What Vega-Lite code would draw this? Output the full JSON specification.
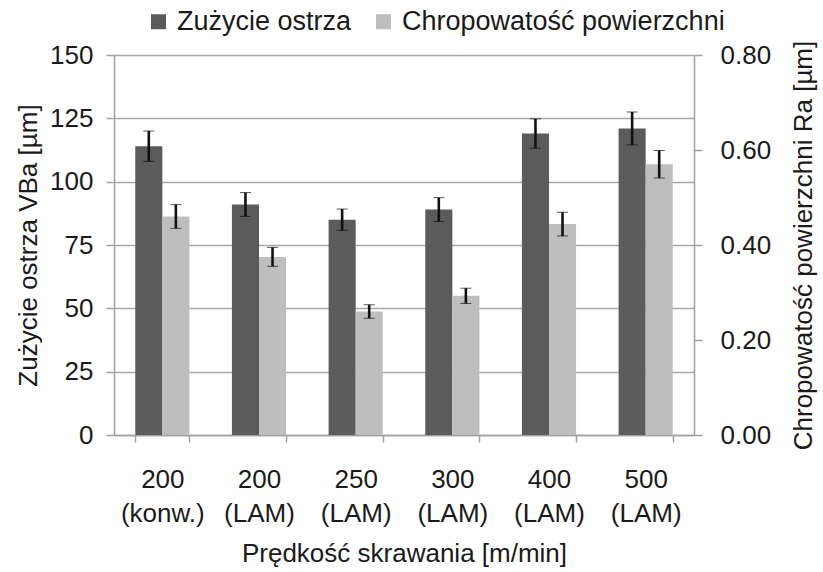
{
  "$schema": "https://vega.github.io/schema/vega-lite/v6.json",
  "autosize": "none",
  "width": 580,
  "height": 380,
  "padding": {"left": 114, "top": 55, "right": 129, "bottom": 137},
  "background": "white",
  "config": {
    "font": "Liberation Sans",
    "view": {"stroke": null},
    "axis": {"labelFont": "Liberation Sans", "titleFont": "Liberation Sans", "labelColor": "#1a1a1a", "titleColor": "#1a1a1a", "titleFontWeight": "normal", "labelFontSize": 26, "titleFontSize": 26, "domainColor": "#a0a0a0", "tickColor": "#a0a0a0", "domainWidth": 1.5, "tickWidth": 1.5}
  },
  "data": {
    "values": [
      {"cat": "200 (konw.)", "series": "Zużycie ostrza", "value": 114, "err": 6},
      {"cat": "200 (LAM)", "series": "Zużycie ostrza", "value": 91, "err": 4.7},
      {"cat": "250 (LAM)", "series": "Zużycie ostrza", "value": 85, "err": 4.2},
      {"cat": "300 (LAM)", "series": "Zużycie ostrza", "value": 89, "err": 4.7},
      {"cat": "400 (LAM)", "series": "Zużycie ostrza", "value": 119, "err": 5.8},
      {"cat": "500 (LAM)", "series": "Zużycie ostrza", "value": 121, "err": 6.5},
      {"cat": "200 (konw.)", "series": "Chropowatość powierzchni", "value": 0.46, "err": 0.025},
      {"cat": "200 (LAM)", "series": "Chropowatość powierzchni", "value": 0.375, "err": 0.02},
      {"cat": "250 (LAM)", "series": "Chropowatość powierzchni", "value": 0.26, "err": 0.014},
      {"cat": "300 (LAM)", "series": "Chropowatość powierzchni", "value": 0.293, "err": 0.016},
      {"cat": "400 (LAM)", "series": "Chropowatość powierzchni", "value": 0.444, "err": 0.025},
      {"cat": "500 (LAM)", "series": "Chropowatość powierzchni", "value": 0.57, "err": 0.029}
    ]
  },
  "encoding": {
    "x": {
      "field": "cat", "type": "nominal", "sort": null,
      "scale": {"paddingInner": 0.44, "paddingOuter": 0.22},
      "axis": {"title": "Prędkość skrawania [m/min]", "labelAngle": 0, "labelExpr": "split(datum.label, ' ')", "labelLineHeight": 34, "labelPadding": 24, "tickBand": "extent", "tickSize": 7, "titlePadding": 14, "domain": true}
    },
    "xOffset": {"field": "series", "type": "nominal", "scale": {"domain": ["Zużycie ostrza", "Chropowatość powierzchni"]}}
  },
  "layer": [
    {
      "transform": [{"filter": "datum.series == 'Zużycie ostrza'"}],
      "encoding": {
        "y": {"field": "value", "type": "quantitative", "scale": {"domain": [0, 150]},
          "axis": {"orient": "left", "title": "Zużycie ostrza VBa [µm]", "values": [0, 25, 50, 75, 100, 125, 150], "grid": true, "gridColor": "#a8a8a8", "gridWidth": 1.5, "tickSize": 8, "labelPadding": 13, "titlePadding": 8}}
      },
      "layer": [
        {"mark": {"type": "bar"},
         "encoding": {"color": {"field": "series", "type": "nominal", "scale": {"domain": ["Zużycie ostrza", "Chropowatość powierzchni"], "range": ["#5b5b5b", "#bebebe"]},
           "legend": {"title": null, "orient": "none", "direction": "horizontal", "legendX": 31, "legendY": -47, "symbolType": "square", "symbolSize": 225, "symbolStrokeWidth": 0, "labelFontSize": 27, "labelFont": "Liberation Sans", "labelColor": "#1a1a1a", "labelLimit": 0, "columnPadding": 18, "labelOffset": 5}}}},
        {"mark": {"type": "errorbar", "ticks": {"size": 11, "color": "#111111", "strokeWidth": 2.6}, "rule": {"color": "#111111", "strokeWidth": 2.6}},
         "encoding": {"yError": {"field": "err"}}}
      ]
    },
    {
      "transform": [{"filter": "datum.series == 'Chropowatość powierzchni'"}],
      "encoding": {
        "y": {"field": "value", "type": "quantitative", "scale": {"domain": [0, 0.8]},
          "axis": {"orient": "right", "title": "Chropowatość powierzchni Ra [µm]", "titleAngle": 270, "titleBaseline": "top", "values": [0, 0.2, 0.4, 0.6, 0.8], "format": ".2f", "grid": false, "tickSize": 8, "labelPadding": 18, "titlePadding": 20}}
      },
      "layer": [
        {"mark": {"type": "bar"},
         "encoding": {"color": {"field": "series", "type": "nominal"}}},
        {"mark": {"type": "errorbar", "ticks": {"size": 11, "color": "#111111", "strokeWidth": 2.6}, "rule": {"color": "#111111", "strokeWidth": 2.6}},
         "encoding": {"yError": {"field": "err"}}}
      ]
    }
  ],
  "resolve": {"scale": {"y": "independent"}}
}
